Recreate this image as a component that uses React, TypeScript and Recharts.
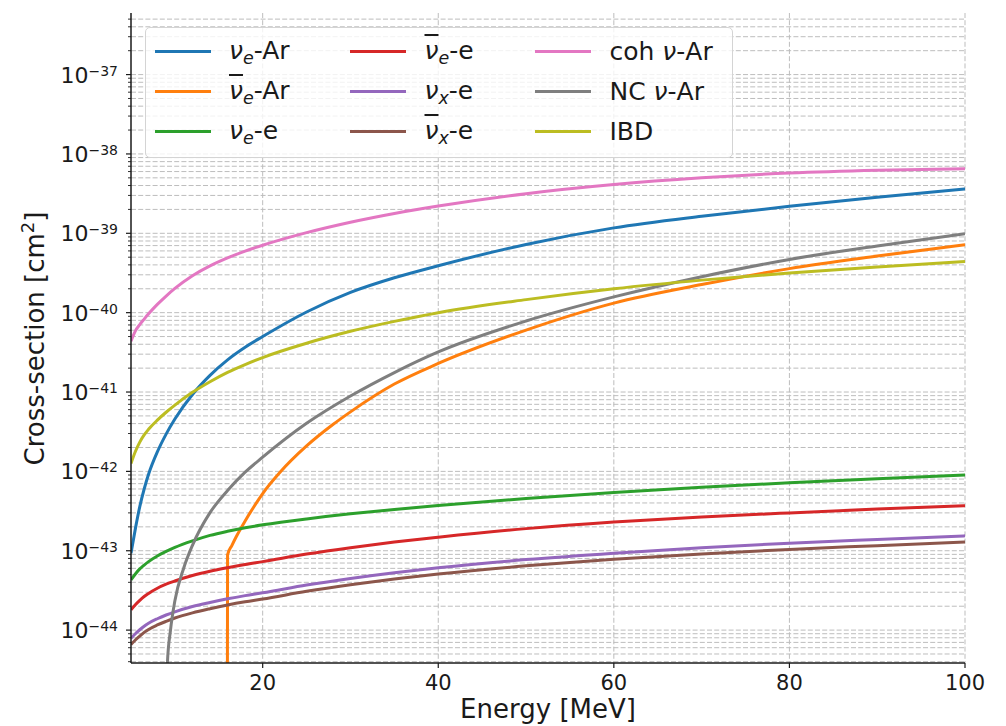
import React from 'react';
import { LineChart, Line, XAxis, YAxis, CartesianGrid, Legend } from 'recharts';

// energy grid shared by most curves (MeV)
const energy = [5, 5.5, 6, 6.5, 7, 8, 9, 10, 12, 14, 16, 18, 20, 25, 30, 35, 40, 50, 60, 70, 80, 90, 100];

const nueAr = [9.3e-44, 1.9e-43, 3.6e-43, 6.0e-43, 9.2e-43, 1.76e-42, 2.95e-42, 4.57e-42, 9.3e-42, 1.62e-41, 2.54e-41, 3.66e-41, 5.0e-41, 1.02e-40, 1.8e-40, 2.75e-40, 3.9e-40, 7.24e-40, 1.17e-39, 1.64e-39, 2.19e-39, 2.85e-39, 3.63e-39];
const nueE = [4.3e-44, 5.1e-44, 5.9e-44, 6.6e-44, 7.3e-44, 8.6e-44, 9.8e-44, 1.1e-43, 1.33e-43, 1.56e-43, 1.76e-43, 1.95e-43, 2.12e-43, 2.52e-43, 2.92e-43, 3.31e-43, 3.71e-43, 4.54e-43, 5.41e-43, 6.3e-43, 7.2e-43, 8.1e-43, 9.0e-43];
const nuebarE = [1.8e-44, 2.09e-44, 2.37e-44, 2.65e-44, 2.9e-44, 3.37e-44, 3.79e-44, 4.16e-44, 4.87e-44, 5.51e-44, 6.11e-44, 6.71e-44, 7.29e-44, 9.07e-44, 1.093e-43, 1.287e-43, 1.48e-43, 1.9e-43, 2.3e-43, 2.66e-43, 3.0e-43, 3.35e-43, 3.7e-43];
const nuxE = [7.9e-45, 9.0e-45, 1.01e-44, 1.12e-44, 1.22e-44, 1.39e-44, 1.55e-44, 1.7e-44, 1.98e-44, 2.23e-44, 2.48e-44, 2.72e-44, 2.95e-44, 3.69e-44, 4.47e-44, 5.28e-44, 6.1e-44, 7.73e-44, 9.33e-44, 1.09e-43, 1.245e-43, 1.39e-43, 1.54e-43];
const nuxbarE = [6.6e-45, 7.5e-45, 8.4e-45, 9.35e-45, 1.02e-44, 1.16e-44, 1.29e-44, 1.42e-44, 1.65e-44, 1.86e-44, 2.07e-44, 2.27e-44, 2.46e-44, 3.08e-44, 3.73e-44, 4.41e-44, 5.09e-44, 6.45e-44, 7.79e-44, 9.1e-44, 1.04e-43, 1.16e-43, 1.29e-43];
const cohNuAr = [4.37e-41, 5.9e-41, 7.08e-41, 8.3e-41, 9.66e-41, 1.27e-40, 1.62e-40, 2.02e-40, 2.92e-40, 3.89e-40, 4.9e-40, 5.97e-40, 7.08e-40, 1.02e-39, 1.38e-39, 1.78e-39, 2.21e-39, 3.16e-39, 4.12e-39, 5.0e-39, 5.75e-39, 6.24e-39, 6.53e-39];
const ibd = [1.26e-42, 1.78e-42, 2.34e-42, 2.88e-42, 3.39e-42, 4.42e-42, 5.56e-42, 6.84e-42, 9.9e-42, 1.35e-41, 1.77e-41, 2.22e-41, 2.72e-41, 4.12e-41, 5.82e-41, 7.76e-41, 1.0e-40, 1.46e-40, 2.0e-40, 2.57e-40, 3.16e-40, 3.76e-40, 4.42e-40];

// curves with a threshold get their own energy points
const nuebarArEnergy = [15.95, 16, 16.5, 17, 18, 19, 20, 22, 25, 28, 30, 35, 40, 50, 60, 70, 80, 90, 100];
const nuebarAr = [1e-47, 8.9e-44, 1.17e-43, 1.51e-43, 2.37e-43, 3.59e-43, 5.25e-43, 9.8e-43, 2.09e-42, 3.89e-42, 5.62e-42, 1.26e-41, 2.29e-41, 6.03e-41, 1.32e-40, 2.26e-40, 3.59e-40, 5.16e-40, 7.19e-40];
const ncEnergy = [9.0, 9.15, 9.5, 10, 11, 12, 14, 16, 18, 20, 25, 30, 35, 40, 50, 60, 70, 80, 90, 100];
const ncNuAr = [5e-47, 3.9e-45, 1.0e-44, 2.34e-44, 6.03e-44, 1.17e-43, 3.02e-43, 5.75e-43, 9.77e-43, 1.51e-42, 4.03e-42, 8.9e-42, 1.76e-41, 3.2e-41, 7.85e-41, 1.58e-40, 2.84e-40, 4.68e-40, 6.92e-40, 9.89e-40];

const xTicks = [20, 40, 60, 80, 100];
const yMajor = [1e-44, 1e-43, 1e-42, 1e-41, 1e-40, 1e-39, 1e-38, 1e-37];
const yDomain = [3.85e-45, 5.97e-37];
const yTicks = [1e-45, ...yMajor]
  .flatMap((m) => [1, 2, 3, 4, 5, 6, 7, 8, 9].map((k) => k * m))
  .filter((v) => v >= yDomain[0] && v <= yDomain[1]);

const FONT = 'DejaVu Sans';
const INK = '#1a1a1a';

const toPoints = (xs: number[], ys: number[]) => xs.map((x, i) => ({ x, y: ys[i] }));

const nu = (bar: boolean) => (
  <span style={{ fontStyle: 'italic', textDecoration: bar ? 'overline' : undefined, textDecorationThickness: '1.5px' }}>ν</span>
);
const sub = (t: string) => (
  <span style={{ fontStyle: 'italic', fontSize: '0.7em', position: 'relative', top: '0.3em' }}>{t}</span>
);

const series = [
  { key: 'nueAr', color: '#1f77b4', xs: energy, ys: nueAr, label: <>{nu(false)}{sub('e')}-Ar</> },
  { key: 'nuebarAr', color: '#ff7f0e', xs: nuebarArEnergy, ys: nuebarAr, label: <>{nu(true)}{sub('e')}-Ar</> },
  { key: 'nueE', color: '#2ca02c', xs: energy, ys: nueE, label: <>{nu(false)}{sub('e')}-e</> },
  { key: 'nuebarE', color: '#d62728', xs: energy, ys: nuebarE, label: <>{nu(true)}{sub('e')}-e</> },
  { key: 'nuxE', color: '#9467bd', xs: energy, ys: nuxE, label: <>{nu(false)}{sub('x')}-e</> },
  { key: 'nuxbarE', color: '#8c564b', xs: energy, ys: nuxbarE, label: <>{nu(true)}{sub('x')}-e</> },
  { key: 'coh', color: '#e377c2', xs: energy, ys: cohNuAr, label: <>coh {nu(false)}-Ar</> },
  { key: 'nc', color: '#7f7f7f', xs: ncEnergy, ys: ncNuAr, label: <>NC {nu(false)}-Ar</> },
  { key: 'ibd', color: '#bcbd22', xs: energy, ys: ibd, label: <>IBD</> },
];

const YTick = ({ x, y, payload }: any) => {
  const v = payload.value as number;
  const exp = Math.round(Math.log10(v));
  const major = Math.abs(v / Math.pow(10, exp) - 1) < 1e-6;
  return (
    <g>
      <line x1={x} x2={x - (major ? 5 : 3)} y1={y} y2={y} stroke={INK} strokeWidth={major ? 1.2 : 0.9} />
      {major && (
        <text x={x - 13} y={y + 8} textAnchor="end" fontSize={22} fontFamily={FONT} fill={INK}>
          <tspan>10</tspan>
          <tspan dy={-7} fontSize={14}>{'\u2212' + -exp}</tspan>
        </text>
      )}
    </g>
  );
};

const XTick = ({ x, y, payload }: any) => (
  <g>
    <line x1={x} x2={x} y1={y} y2={y + 5} stroke={INK} strokeWidth={1.2} />
    <text x={x} y={y + 27} textAnchor="middle" fontSize={21} fontFamily={FONT} fill={INK}>
      {payload.value}
    </text>
  </g>
);

const YLabel = () => (
  <text
    x={44}
    y={338.5}
    transform="rotate(-90, 44, 338.5)"
    textAnchor="middle"
    fontSize={26}
    fontFamily={FONT}
    fill={INK}
  >
    Cross-section [cm<tspan dy={-10} fontSize={18}>2</tspan>
    <tspan dy={10}>]</tspan>
  </text>
);

const colWidths = [204, 185, 197];

const LegendBox = () => (
  <div
    style={{
      boxSizing: 'border-box',
      width: '100%',
      height: '100%',
      border: '1px solid #d4d4d4',
      borderRadius: 5,
      background: 'rgba(255,255,255,0.8)',
      paddingTop: 3.5,
      display: 'grid',
      gridTemplateColumns: colWidths.map((w) => w + 'px').join(' '),
      gridTemplateRows: 'repeat(3, 40px)',
      gridAutoFlow: 'column',
      fontFamily: FONT,
      fontSize: 25,
      color: INK,
    }}
  >
    {series.map((s, i) => (
      <div key={s.key} style={{ display: 'flex', alignItems: 'center', paddingLeft: i < 3 ? 8.5 : 0, whiteSpace: 'nowrap' }}>
        <div style={{ width: 56, height: 3, background: s.color, marginRight: 18.5, flex: 'none' }} />
        <span style={{ lineHeight: '40px' }}>{s.label}</span>
      </div>
    ))}
  </div>
);

export default function App() {
  return (
    <div style={{ position: 'absolute', left: 0, top: 0, background: '#fff' }}>
      <LineChart width={1006} height={726} margin={{ top: 13, right: 41, bottom: 0, left: 0 }}>
        <CartesianGrid
          horizontalValues={yTicks}
          verticalValues={xTicks}
          stroke="#bdbdbd"
          strokeDasharray="5 2.2"
          strokeWidth={1}
        />
        <XAxis
          dataKey="x"
          type="number"
          domain={[5, 100]}
          ticks={xTicks}
          interval={0}
          allowDataOverflow
          height={63}
          tickSize={0}
          tickMargin={0}
          tickLine={false}
          tick={<XTick />}
          axisLine={{ stroke: INK, strokeWidth: 1.5 }}
          label={{ value: 'Energy [MeV]', position: 'insideBottom', offset: 8, fontSize: 26, fontFamily: FONT, fill: INK }}
        />
        <XAxis
          xAxisId="top"
          orientation="top"
          type="number"
          domain={[5, 100]}
          height={0}
          tick={false}
          tickLine={false}
          axisLine={{ stroke: INK, strokeWidth: 1.5 }}
        />
        <YAxis
          type="number"
          scale="log"
          domain={yDomain}
          ticks={yTicks}
          interval={0}
          allowDataOverflow
          width={131}
          tickSize={0}
          tickMargin={0}
          tickLine={false}
          tick={<YTick />}
          axisLine={{ stroke: INK, strokeWidth: 1.5 }}
          label={<YLabel />}
        />
        <YAxis
          yAxisId="right"
          orientation="right"
          width={0}
          tick={false}
          tickLine={false}
          axisLine={{ stroke: INK, strokeWidth: 1.5 }}
        />
        <Legend
          layout="horizontal"
          verticalAlign="middle"
          align="center"
          wrapperStyle={{ left: 145, top: 27, width: 588, height: 131 }}
          content={() => <LegendBox />}
        />
        {series.map((s) => (
          <Line
            key={s.key}
            data={toPoints(s.xs, s.ys)}
            dataKey="y"
            type="monotone"
            stroke={s.color}
            strokeWidth={3}
            dot={false}
            activeDot={false}
            isAnimationActive={false}
          />
        ))}
      </LineChart>
    </div>
  );
}
